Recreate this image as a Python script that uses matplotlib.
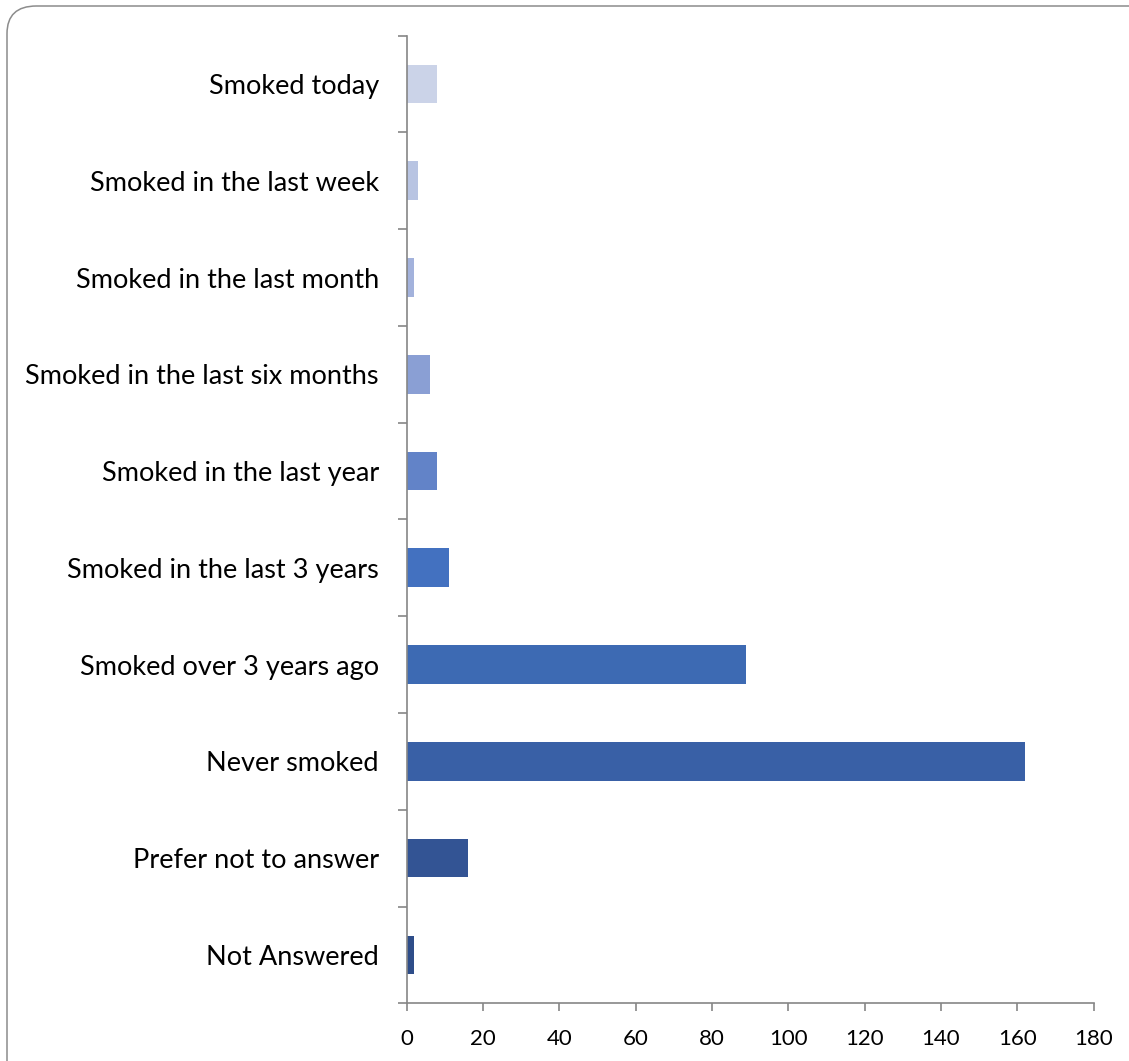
import matplotlib.pyplot as plt
from matplotlib.patches import FancyBboxPatch

categories = [
    "Smoked today",
    "Smoked in the last week",
    "Smoked in the last month",
    "Smoked in the last six months",
    "Smoked in the last year",
    "Smoked in the last 3 years",
    "Smoked over 3 years ago",
    "Never smoked",
    "Prefer not to answer",
    "Not Answered",
]
counts = [8, 3, 2, 6, 8, 11, 89, 162, 16, 2]
colors = ["#CBD3E8", "#B8C4E2", "#A3B2DC", "#8A9FD4", "#6283C8",
          "#4371C0", "#3D6AB3", "#3960A6", "#335494", "#2E4D89"]
xticks = [0, 20, 40, 60, 80, 100, 120, 140, 160, 180]

plt.rcParams['font.family'] = ['Lato', 'DejaVu Sans']
axis_gray = "#868686"

fig = plt.figure(figsize=(11.29, 10.61), dpi=100)

# rounded frame around the chart area
frame = FancyBboxPatch((7 / 1129, -0.2), 1.2, 1 - 6 / 1061 + 0.2, transform=fig.transFigure,
                       boxstyle="round,pad=0,rounding_size=0.026",
                       facecolor="none", edgecolor="#8c8c8c", linewidth=1.1)
fig.patches.append(frame)

ax = fig.add_axes([0.3602, 0.0544, 0.6085, 0.9120])
y = list(range(len(categories)))
ax.barh(y, counts, height=0.4, color=colors)

ax.set_xlim(0, 180)
ax.set_ylim(len(categories) - 0.5, -0.5)
ax.set_xticks(xticks)
ax.set_yticks([i - 0.5 for i in range(len(categories) + 1)], minor=False)
ax.set_yticklabels([])
ax.set_yticks(y, minor=True)
ax.set_yticklabels(categories, minor=True)

for s in ["top", "right"]:
    ax.spines[s].set_visible(False)
for s in ["left", "bottom"]:
    ax.spines[s].set_color(axis_gray)
    ax.spines[s].set_linewidth(1.2)

ax.tick_params(axis="y", which="major", length=6.5, width=1.2, color=axis_gray)
ax.tick_params(axis="y", which="minor", length=0, pad=20, labelsize=19.5, labelcolor="black")
ax.tick_params(axis="x", length=5.8, width=1.2, color=axis_gray, pad=13, labelsize=16)

fig.savefig("out.png", dpi=100, facecolor="white")
